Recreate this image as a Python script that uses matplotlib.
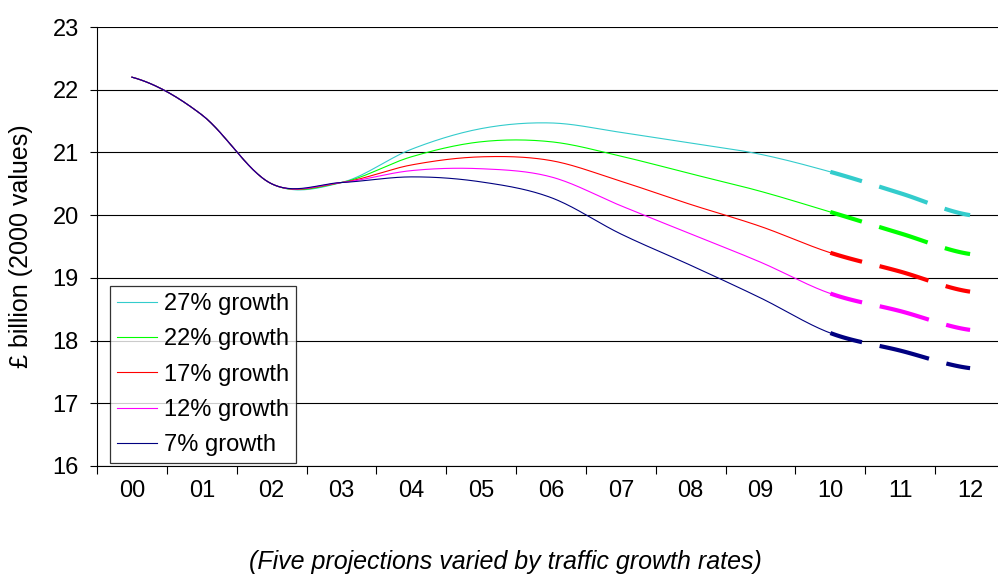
import matplotlib
matplotlib.use("Agg")
import matplotlib.pyplot as plt
import numpy as np

plt.rcParams['font.family'] = ['Liberation Sans', 'DejaVu Sans']
plt.rcParams['lines.scale_dashes'] = False

# data
years = ['00', '01', '02', '03', '04', '05', '06', '07', '08', '09', '10', '11', '12']
labels = ['27% growth', '22% growth', '17% growth', '12% growth', '7% growth']
colors = ['#33CCCC', '#00FF00', '#FF0000', '#FF00FF', '#000080']

g27 = [22.2, 21.6, 20.5, 20.52, 21.05, 21.38, 21.47, 21.32, 21.15, 20.97, 20.69, 20.35, 20.00]
g22 = [22.2, 21.6, 20.5, 20.52, 20.93, 21.17, 21.17, 20.94, 20.66, 20.38, 20.05, 19.71, 19.38]
g17 = [22.2, 21.6, 20.5, 20.52, 20.80, 20.93, 20.87, 20.54, 20.17, 19.82, 19.40, 19.10, 18.78]
g12 = [22.2, 21.6, 20.5, 20.52, 20.71, 20.74, 20.61, 20.15, 19.70, 19.25, 18.75, 18.47, 18.17]
g07 = [22.2, 21.6, 20.5, 20.52, 20.61, 20.53, 20.28, 19.70, 19.20, 18.68, 18.12, 17.84, 17.56]
series = [g27, g22, g17, g12, g07]

last_actual = 10  # solid up to '10', projection dashed after


def smooth(y, n=30):
    # Catmull-Rom, like excel's smoothed line
    y = np.asarray(y, float)
    p = np.concatenate([[y[0]], y, [y[-1]]])
    xs, ys = [], []
    for i in range(len(y) - 1):
        t = np.linspace(0, 1, n, endpoint=False)
        m0 = (p[i + 2] - p[i]) / 2
        m1 = (p[i + 3] - p[i + 1]) / 2
        h00 = 2 * t**3 - 3 * t**2 + 1
        h10 = t**3 - 2 * t**2 + t
        h01 = -2 * t**3 + 3 * t**2
        h11 = t**3 - t**2
        xs.append(i + t)
        ys.append(h00 * y[i] + h10 * m0 + h01 * y[i + 1] + h11 * m1)
    xs.append([len(y) - 1])
    ys.append([y[-1]])
    return np.concatenate(xs), np.concatenate(ys)


fig = plt.figure(figsize=(9.98, 5.74), dpi=100)
ax = fig.add_axes([97 / 998, 108 / 574, 908 / 998, 439 / 574])

for vals, col, lab in zip(series, colors, labels):
    xs, ys = smooth(vals)
    solid = xs <= last_actual
    ax.plot(xs[solid], ys[solid], color=col, linewidth=0.8, label=lab)
    proj = xs >= last_actual
    ax.plot(xs[proj], ys[proj], color=col, linewidth=3.0,
            linestyle=(13, (36.7, 13)), dash_capstyle='butt')

ax.set_xlim(-0.5, 12.5)
ax.set_ylim(16, 23)
ax.set_yticks(range(16, 24))
ax.yaxis.grid(True, color='black', linewidth=0.8)
ax.set_axisbelow(True)

ax.set_xticks(np.arange(-0.5, 13, 1))
ax.set_xticklabels([])
ax.set_xticks(range(len(years)), minor=True)
ax.set_xticklabels(years, minor=True)
ax.tick_params(axis='x', which='major', length=6, width=0.8, color='black')
ax.tick_params(axis='x', which='minor', length=0, pad=10, labelsize=17)
ax.tick_params(axis='y', length=5, width=0.8, pad=8, labelsize=17)

for s in ['top', 'right']:
    ax.spines[s].set_visible(False)
for s in ['left', 'bottom']:
    ax.spines[s].set_linewidth(0.8)
    ax.spines[s].set_color('black')

ax.set_ylabel('£ billion (2000 values)', fontsize=18)
ax.yaxis.set_label_coords(-64 / 908, 0.5)

leg = ax.legend(loc='lower left', bbox_to_anchor=(110 / 998, 111 / 574),
                bbox_transform=fig.transFigure, fontsize=17, frameon=True,
                fancybox=False, edgecolor='black', handlelength=1.7,
                handletextpad=0.28, labelspacing=0.56, borderpad=0.29,
                borderaxespad=0)
leg.get_frame().set_linewidth(0.9)

fig.text(505 / 998, 12 / 574, '(Five projections varied by traffic growth rates)',
         fontsize=18, style='italic', ha='center', va='center')

fig.savefig('out.png', dpi=100)
